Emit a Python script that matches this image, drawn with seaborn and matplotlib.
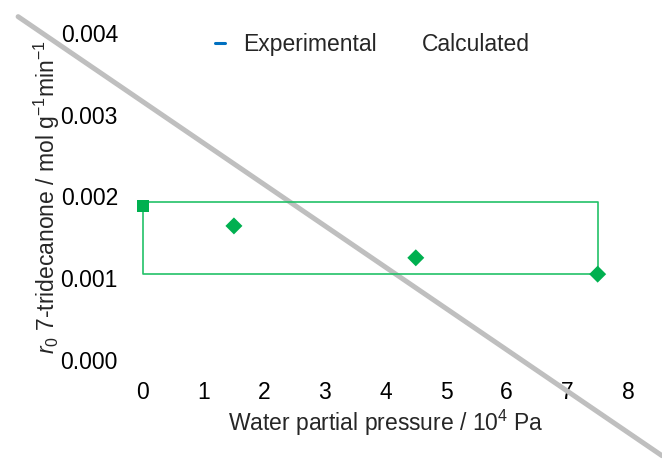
import matplotlib
matplotlib.use("Agg")
import matplotlib.pyplot as plt
from matplotlib.lines import Line2D
import seaborn as sns
import pandas as pd

# Experimental initial rates
pressure = [0, 1.5, 4.5, 7.5]
rate_exp = [0.00188, 0.00164, 0.00125, 0.00105]
marker_kind = ["s", "D", "D", "D"]

# Calculated envelope
calc_x = [0, 7.5, 7.5, 0, 0]
calc_y = [0.00193, 0.00193, 0.00105, 0.00105, 0.00193]

# Grey trend line
trend_x = [-2.06, 8.56]
trend_y = [0.00420, -0.00117]

xticks = [0, 1, 2, 3, 4, 5, 6, 7, 8]
yticks = [0.000, 0.001, 0.002, 0.003, 0.004]

sns.set_theme(style="white")
plt.rcParams["font.family"] = ["Liberation Sans", "DejaVu Sans"]
plt.rcParams["mathtext.fontset"] = "custom"
plt.rcParams["mathtext.rm"] = "Liberation Sans"
plt.rcParams["mathtext.it"] = "Liberation Sans:italic"

FS = 16.5

fig = plt.figure(figsize=(6.62, 4.59), dpi=100)
ax = fig.add_axes([0.216, 0.2157, 0.7326, 0.7124])

exp_df = pd.DataFrame({"p": pressure, "r": rate_exp, "m": marker_kind})
calc_df = pd.DataFrame({"p": calc_x, "r": calc_y})
trend_df = pd.DataFrame({"p": trend_x, "r": trend_y})

sns.lineplot(data=trend_df, x="p", y="r", sort=False, estimator=None,
             color="#BFBFBF", linewidth=3.6, ax=ax, clip_on=False, zorder=1)
sns.lineplot(data=calc_df, x="p", y="r", sort=False, estimator=None,
             color="#22C168", linewidth=1.2, ax=ax, clip_on=False, zorder=2)
for mk in ["s", "D"]:
    sub = exp_df[exp_df["m"] == mk]
    sns.scatterplot(data=sub, x="p", y="r", marker=mk, color="#00B050",
                    s=72 if mk == "s" else 75, edgecolor="none", ax=ax,
                    clip_on=False, zorder=3)

ax.set_xlim(0, 8)
ax.set_ylim(0, 0.004)
ax.set_xticks(xticks)
ax.set_yticks(yticks)
ax.set_xticklabels([str(v) for v in xticks])
ax.set_yticklabels([f"{v:.3f}" for v in yticks])
ax.tick_params(axis="both", length=0, labelsize=FS, colors="#000000")
ax.tick_params(axis="x", pad=15)
ax.tick_params(axis="y", pad=18)
for sp in ax.spines.values():
    sp.set_visible(False)

ax.set_xlabel("Water partial pressure / 10$^{4}$ Pa", fontsize=FS, labelpad=3)
ax.set_ylabel(r"$r_{0}$ 7-tridecanone / mol g$^{-1}$min$^{-1}$", fontsize=FS,
              labelpad=-1)

# Legend: small blue dash for the measured series, no visible key for the model
handles = [Line2D([], [], color="#0070C0", linewidth=2.2),
           Line2D([], [], color="none")]
leg = ax.legend(handles, ["Experimental", "Calculated"], loc="upper left",
                bbox_to_anchor=(0.105, 1.062), ncol=2, frameon=False,
                fontsize=FS, handlelength=0.45, handletextpad=0.8,
                columnspacing=0.7)

fig.savefig("out.png", dpi=100)
